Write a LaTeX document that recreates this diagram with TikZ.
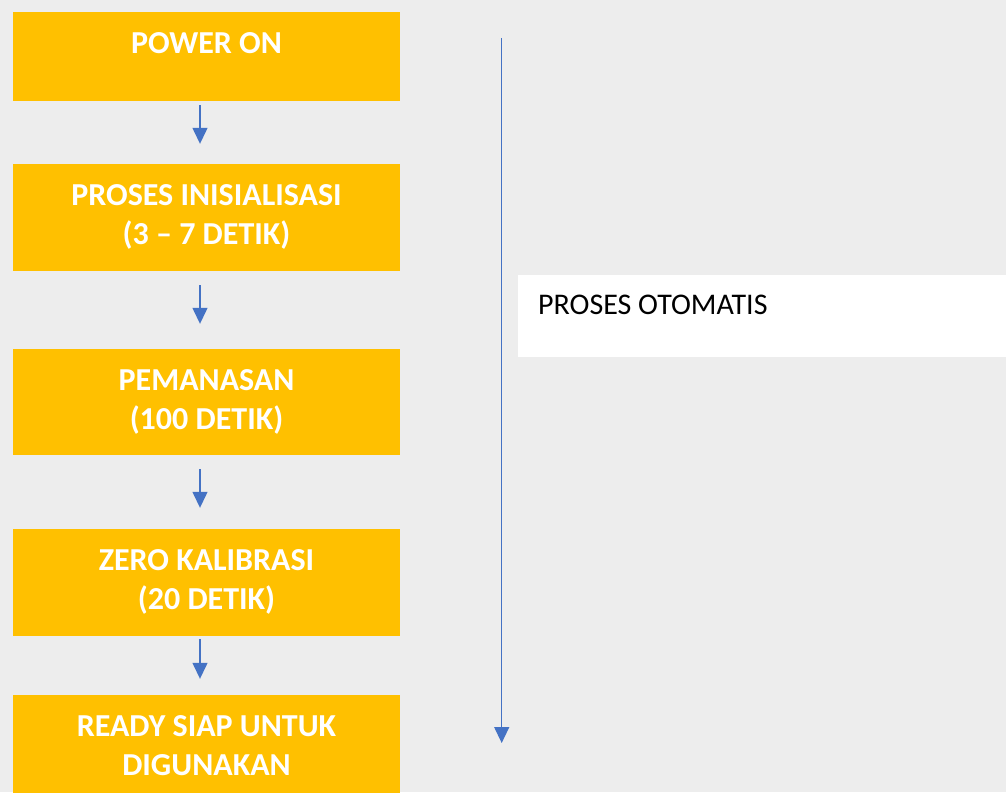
\documentclass[tikz,border=0pt]{standalone}
\usepackage{fontspec}
\setmainfont{Carlito}
\usetikzlibrary{arrows.meta}
\definecolor{bggray}{HTML}{EDEDED}
\definecolor{steporange}{HTML}{FFC000}
\definecolor{flowblue}{HTML}{4472C4}

\begin{document}
\begin{tikzpicture}
  [x=1pt,y=-1pt,
   stepbox/.style={rectangle,fill=steporange,inner sep=0pt,minimum width=387pt},
   steptext/.style={anchor=north,align=center,inner sep=0pt,text=white,
     font=\fontsize{32}{39}\selectfont\bfseries},
   autobox/.style={rectangle,fill=white,inner sep=0pt,minimum width=490pt,minimum height=82pt},
   autotext/.style={anchor=base west,inner sep=0pt,font=\fontsize{30}{36}\selectfont},
   flow/.style={draw=flowblue,line width=1.3pt,-{Triangle[width=15pt,length=16pt]}}]
  \clip (0,0) rectangle (1006,792);
  \fill[bggray] (0,0) rectangle (1006,792);
  \node[stepbox,minimum height=89pt] (on) at (206.5,56.5) {};
  \node[stepbox,minimum height=107pt] (init) at (206.5,217.5) {};
  \node[stepbox,minimum height=106pt] (heat) at (206.5,402) {};
  \node[stepbox,minimum height=107pt] (zero) at (206.5,582.5) {};
  \node[stepbox,minimum height=110pt] (ready) at (206.5,750) {};
  \foreach \n/\txt in {on/{POWER ON},
                       init/{PROSES INISIALISASI\\(3 – 7 DETIK)},
                       heat/{PEMANASAN\\(100 DETIK)},
                       zero/{ZERO KALIBRASI\\(20 DETIK)},
                       ready/{READY SIAP UNTUK\\DIGUNAKAN}}
    \node[steptext] (\n-t) at ([yshift=-21pt]\n.north) {\txt};
  \foreach \from/\to/\a/\b in {on/init/4/20,init/heat/14/25,heat/zero/14/21,zero/ready/3/16}
    \draw[flow,shorten <=\a pt,shorten >=\b pt] ([xshift=-6.5pt]\from.south) -- ([xshift=-6.5pt]\to.north);
  % automatic part
  \coordinate (autotop) at (501.7,38);
  \coordinate (autobot) at (501.7,743);
  \draw[flow] (autotop) -- (autobot);
  \node[autobox] (auto) at (763,316) {};
  \node[autotext] (auto-t) at (538,314) {PROSES OTOMATIS};
\end{tikzpicture}
\end{document}
